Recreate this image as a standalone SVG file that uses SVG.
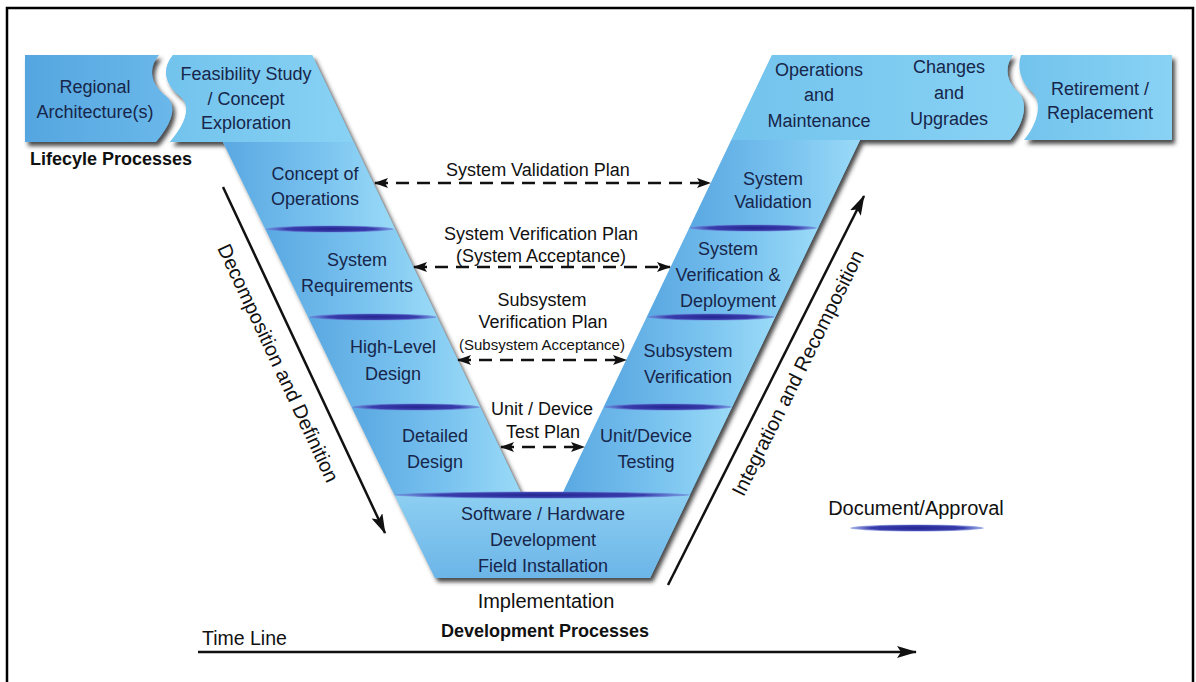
<svg xmlns="http://www.w3.org/2000/svg" width="1196" height="682" viewBox="0 0 1196 682">
<style>
  .t{font-family:"Liberation Sans",Arial,sans-serif;font-size:18px;fill:#17264a;text-anchor:middle}
  .k{font-family:"Liberation Sans",Arial,sans-serif;font-size:18px;fill:#111;text-anchor:middle}
  .b{font-weight:bold}
  .doc{fill:url(#docg)}
  .dash{stroke:#111;stroke-width:2.5;stroke-dasharray:13 8;fill:none;marker-start:url(#ah);marker-end:url(#ah)}
  .solid{stroke:#111;stroke-width:2.5;fill:none}
</style>
<defs>
  <filter id="sh" x="-5%" y="-5%" width="115%" height="120%">
    <feDropShadow dx="3" dy="4" stdDeviation="2.2" flood-color="#2a2a2a" flood-opacity="0.85"/>
  </filter>
  <linearGradient id="arm" x1="0" y1="0" x2="1" y2="0">
    <stop offset="0" stop-color="#5aa8e2"/>
    <stop offset="0.55" stop-color="#78c2ef"/>
    <stop offset="1" stop-color="#9adaf7"/>
  </linearGradient>
  <linearGradient id="band" x1="0" y1="0" x2="1" y2="0">
    <stop offset="0" stop-color="#72c3ed"/>
    <stop offset="1" stop-color="#88d2f4"/>
  </linearGradient>
  <linearGradient id="reg" x1="0" y1="0" x2="1" y2="0">
    <stop offset="0" stop-color="#55a6e0"/>
    <stop offset="1" stop-color="#6ab8ea"/>
  </linearGradient>
  <linearGradient id="bot" x1="0" y1="0" x2="0" y2="1">
    <stop offset="0" stop-color="#8dcff2"/>
    <stop offset="1" stop-color="#6cb5e8"/>
  </linearGradient>
  <radialGradient id="docg" cx="0.5" cy="0.5" r="0.5">
    <stop offset="0" stop-color="#23248f"/>
    <stop offset="0.7" stop-color="#3a3ead"/>
    <stop offset="1" stop-color="#6a7fd6" stop-opacity="0.6"/>
  </radialGradient>
  <marker id="ah" viewBox="0 0 14 10" refX="13" refY="5" markerWidth="14" markerHeight="10" markerUnits="userSpaceOnUse" orient="auto-start-reverse">
    <path d="M0,0 L14,5 L0,10 L3,5 Z" fill="#111"/>
  </marker>
  <marker id="ahb" viewBox="0 0 20 12" refX="19" refY="6" markerWidth="20" markerHeight="12" markerUnits="userSpaceOnUse" orient="auto">
    <path d="M0,0 L20,6 L0,12 L4,6 Z" fill="#111"/>
  </marker>
</defs>

<rect x="7" y="8" width="1186" height="700" fill="#fff" stroke="#000" stroke-width="2.5"/>

<g id="silhouettes" filter="url(#sh)">
  <path d="M25,55 L159,55 C148,68 150,84 166,96 C180,108 168,128 156,142 L25,142 Z" fill="url(#reg)"/>
  <path d="M173,55 L312,55 L521,493 L563,493 L772,55 L1013,55 C1004,66 1006,82 1018,92 C1030,104 1022,126 1010,140 L860,140 L650,578 L435,578 L223,142 L170,142 C182,128 194,108 180,96 C164,84 162,68 173,55 Z" fill="#7ac5ef"/>
  <path d="M1021,55 L1172,55 L1172,140 L1024,140 C1036,126 1044,104 1032,92 C1020,82 1017,66 1021,55 Z" fill="url(#band)"/>
</g>

<g id="regional">
  <text class="t" x="95" y="93">Regional</text>
  <text class="t" x="95" y="118">Architecture(s)</text>
</g>
<g id="feasibility">
  <path d="M173,55 L312,55 L353.6,142 L170,142 C182,128 194,108 180,96 C164,84 162,68 173,55 Z" fill="url(#band)"/>
  <text class="t" x="246" y="80">Feasibility Study</text>
  <text class="t" x="246" y="105">/ Concept</text>
  <text class="t" x="246" y="129">Exploration</text>
</g>
<g id="concept-ops">
  <path d="M223,142 L353.6,142 L395.2,229 L265.4,229 Z" fill="url(#arm)"/>
  <text class="t" x="315" y="180">Concept of</text>
  <text class="t" x="315" y="205">Operations</text>
</g>
<g id="system-requirements">
  <path d="M265.4,229 L395.2,229 L437.2,317 L308.2,317 Z" fill="url(#arm)"/>
  <text class="t" x="357" y="266">System</text>
  <text class="t" x="357" y="292">Requirements</text>
</g>
<g id="high-level-design">
  <path d="M308.2,317 L437.2,317 L480.3,407 L351.6,407 Z" fill="url(#arm)"/>
  <text class="t" x="393" y="353">High-Level</text>
  <text class="t" x="393" y="380">Design</text>
</g>
<g id="detailed-design">
  <path d="M351.6,407 L480.3,407 L521,493 L521,495 L394.5,495 Z" fill="url(#arm)"/>
  <text class="t" x="435" y="442">Detailed</text>
  <text class="t" x="435" y="468">Design</text>
</g>
<g id="implementation">
  <path d="M394.5,495 L690,495 L650,578 L435,578 Z" fill="url(#bot)"/>
  <text class="t" x="543" y="520">Software / Hardware</text>
  <text class="t" x="543" y="546">Development</text>
  <text class="t" x="543" y="572">Field Installation</text>
</g>
<g id="unit-testing">
  <path d="M603.7,407 L732.1,407 L689.3,495 L561.7,495 Z" fill="url(#arm)"/>
  <text class="t" x="646" y="442">Unit/Device</text>
  <text class="t" x="646" y="468">Testing</text>
</g>
<g id="subsystem-verification">
  <path d="M646.8,317 L775.2,317 L732.1,407 L603.7,407 Z" fill="url(#arm)"/>
  <text class="t" x="688" y="357">Subsystem</text>
  <text class="t" x="688" y="383">Verification</text>
</g>
<g id="system-verification">
  <path d="M689.3,228 L817.9,228 L775.2,317 L646.8,317 Z" fill="url(#arm)"/>
  <text class="t" x="728" y="255">System</text>
  <text class="t" x="728" y="281">Verification &amp;</text>
  <text class="t" x="728" y="307">Deployment</text>
</g>
<g id="system-validation">
  <path d="M731.4,140 L860,140 L817.9,228 L689.3,228 Z" fill="url(#arm)"/>
  <text class="t" x="773" y="185">System</text>
  <text class="t" x="773" y="208">Validation</text>
</g>
<g id="operations">
  <path d="M772,55 L1013,55 C1004,66 1006,82 1018,92 C1030,104 1022,126 1010,140 L731.4,140 Z" fill="url(#band)"/>
  <text class="t" x="819" y="76">Operations</text>
  <text class="t" x="819" y="101">and</text>
  <text class="t" x="819" y="127">Maintenance</text>
</g>
<g id="changes">
  <text class="t" x="949" y="73">Changes</text>
  <text class="t" x="949" y="99">and</text>
  <text class="t" x="949" y="125">Upgrades</text>
</g>
<g id="retirement">
  <text class="t" x="1100" y="95">Retirement /</text>
  <text class="t" x="1100" y="119">Replacement</text>
</g>

<g id="approvals">
  <ellipse class="doc" cx="330" cy="229" rx="64" ry="3.5"/>
  <ellipse class="doc" cx="373" cy="317" rx="64" ry="3.5"/>
  <ellipse class="doc" cx="416" cy="407" rx="64" ry="3.5"/>
  <ellipse class="doc" cx="542" cy="495" rx="148" ry="3.5"/>
  <ellipse class="doc" cx="753" cy="228" rx="64" ry="3.5"/>
  <ellipse class="doc" cx="711" cy="317" rx="64" ry="3.5"/>
  <ellipse class="doc" cx="668" cy="407" rx="64" ry="3.5"/>
</g>

<g id="connectors">
  <line class="dash" x1="375" y1="183" x2="710" y2="183"/>
  <line class="dash" x1="414" y1="267" x2="670" y2="267"/>
  <line class="dash" x1="458" y1="360" x2="626" y2="360"/>
  <line class="dash" x1="501" y1="447" x2="584" y2="447"/>
  <line class="solid" x1="223" y1="187" x2="385" y2="533" marker-end="url(#ahb)"/>
  <line class="solid" x1="668" y1="585" x2="864" y2="196" marker-end="url(#ahb)"/>
  <line class="solid" x1="198" y1="652" x2="916" y2="652" stroke-width="2" marker-end="url(#ahb)"/>
</g>

<g id="labels">
  <text class="k" x="538" y="176">System Validation Plan</text>
  <text class="k" x="541" y="240">System Verification Plan</text>
  <text class="k" x="541" y="262">(System Acceptance)</text>
  <text class="k" x="542" y="306">Subsystem</text>
  <text class="k" x="543" y="328">Verification Plan</text>
  <text class="k" x="542" y="350" style="font-size:15px">(Subsystem Acceptance)</text>
  <text class="k" x="542" y="415">Unit / Device</text>
  <text class="k" x="543" y="438">Test Plan</text>
  <text class="k b" x="30" y="165" style="text-anchor:start">Lifecyle Processes</text>
  <text class="k" x="546" y="608" style="font-size:20px">Implementation</text>
  <text class="k b" x="545" y="637">Development Processes</text>
  <text class="k" x="202" y="645" style="font-size:19.5px;text-anchor:start">Time Line</text>
  <text class="k" x="272" y="366" style="font-size:20px" transform="rotate(65 272 366)">Decomposition and Definition</text>
  <text class="k" x="804" y="376" style="font-size:20px" transform="rotate(-63.5 804 376)">Integration and Recomposition</text>
</g>

<g id="legend">
  <text class="k" x="916" y="515" style="font-size:20px">Document/Approval</text>
  <ellipse class="doc" cx="917" cy="528" rx="67" ry="3.5"/>
</g>
</svg>
